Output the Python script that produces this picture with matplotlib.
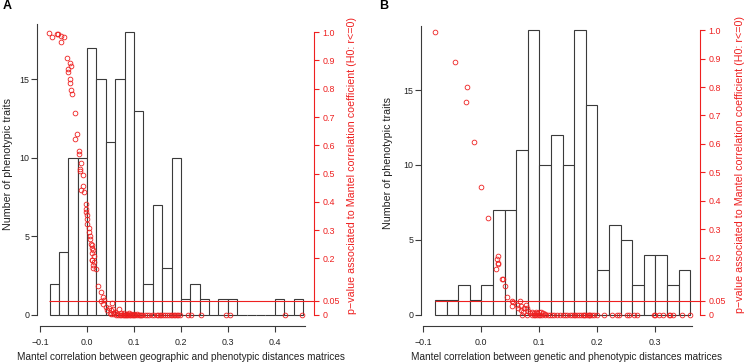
"""
Histograms of Mantel correlations with the p-values of each trait
on a second (red) axis.
"""

import numpy as np
import matplotlib.pyplot as plt

plt.rcParams['font.family'] = ['Liberation Sans', 'DejaVu Sans']

RED = '#ee2020'
EDGE = '#3a3a3a'

bin_start = -0.08
bin_width = 0.02

# panel A: geographic vs phenotypic distances
counts_a = [2, 4, 10, 10, 17, 15, 11, 15, 18, 13, 2, 7, 3, 10,
            1, 2, 1, 0, 1, 1, 0, 0, 0, 0, 1, 0, 1]

r_a = [-0.0815, -0.0745, -0.0645, -0.062, -0.056, -0.050, -0.055,
       -0.042, -0.037, -0.034, -0.040, -0.041, -0.037, -0.036, -0.035,
       -0.033, -0.0255, -0.022, -0.0255, -0.017, -0.0177, -0.014, -0.015,
       -0.016, -0.009, -0.009, -0.013, -0.007, -0.003, -0.003, -0.002,
       0.000, 0.000, -0.001, 0.003, 0.004, 0.006, 0.006, 0.0085, 0.011,
       0.011, 0.0135, 0.011, 0.014, 0.011, 0.010, 0.015, 0.0135, 0.0135,
       0.0185, 0.023, 0.029, 0.033, 0.035, 0.030, 0.052, 0.033, 0.041,
       0.046, 0.042, 0.050, 0.055, 0.067, 0.049, 0.057, 0.060, 0.0645,
       0.072, 0.078, 0.084, 0.089, 0.094, 0.099, 0.106, 0.115,
       0.050, 0.055, 0.062, 0.066, 0.070, 0.073, 0.076, 0.079, 0.0815,
       0.083, 0.086, 0.088, 0.0915, 0.092, 0.096, 0.098, 0.101, 0.103,
       0.107, 0.110, 0.113, 0.118, 0.124, 0.128, 0.133, 0.138, 0.143,
       0.148, 0.152, 0.155, 0.158, 0.162, 0.165, 0.170, 0.175, 0.178,
       0.182, 0.185, 0.188, 0.191, 0.194, 0.198, 0.2155, 0.221, 0.243,
       0.297, 0.304, 0.421, 0.459]
p_a = [0.998, 0.983, 0.993, 0.992, 0.988, 0.984, 0.966,
       0.909, 0.890, 0.879, 0.871, 0.861, 0.834, 0.822, 0.797,
       0.783, 0.713, 0.640, 0.624, 0.580, 0.569, 0.539, 0.516,
       0.508, 0.496, 0.455, 0.442, 0.434, 0.392, 0.375, 0.365,
       0.352, 0.338, 0.323, 0.308, 0.292, 0.279, 0.267, 0.252, 0.249,
       0.238, 0.229, 0.219, 0.209, 0.196, 0.196, 0.187, 0.176, 0.166,
       0.161, 0.104, 0.081, 0.064, 0.053, 0.050, 0.043, 0.039, 0.029,
       0.025, 0.018, 0.018, 0.022, 0.020, 0.008, 0.008, 0.012, 0.004,
       0.008, 0.006, 0.004, 0.006, 0.003, 0.005, 0.002, 0.001,
       0.003, 0.002, 0.001, 0.0, 0.0, 0.001, 0.0, 0.0, 0.0,
       0.0, 0.0, 0.0, 0.0, 0.0, 0.0, 0.0, 0.0, 0.0,
       0.0, 0.0, 0.0, 0.0, 0.0, 0.0, 0.0, 0.0, 0.0,
       0.0, 0.0, 0.0, 0.0, 0.0, 0.0, 0.0, 0.0, 0.0,
       0.0, 0.0, 0.0, 0.0, 0.0, 0.0, 0.0, 0.0, 0.0,
       0.0, 0.0, 0.0, 0.0]

# panel B: genetic vs phenotypic distances
counts_b = [1, 1, 2, 1, 2, 7, 7, 11, 19, 10, 12, 10, 19, 14,
            3, 6, 5, 2, 4, 4, 2, 3]

r_b = [-0.079, -0.045, -0.0247, -0.0264, -0.013, -0.0005, 0.011, 0.028,
       0.0265, 0.029, 0.028, 0.025, 0.0357, 0.037, 0.041, 0.044, 0.053,
       0.054, 0.066, 0.053, 0.061, 0.063, 0.069, 0.077, 0.074, 0.079,
       0.068, 0.0725, 0.080, 0.0695, 0.079,
       0.084, 0.088, 0.091, 0.094, 0.096, 0.100, 0.103, 0.106, 0.110,
       0.0874, 0.090, 0.093, 0.096, 0.099, 0.102, 0.105, 0.110, 0.115,
       0.118, 0.122, 0.125, 0.130, 0.135, 0.140, 0.145, 0.148, 0.153,
       0.156, 0.159, 0.162, 0.165, 0.168, 0.171, 0.175, 0.177, 0.179,
       0.182, 0.185, 0.186, 0.188, 0.191, 0.194, 0.199, 0.211, 0.225,
       0.234, 0.237, 0.251, 0.254, 0.263, 0.268, 0.297, 0.300, 0.306,
       0.314, 0.323, 0.326, 0.331, 0.346, 0.359]
p_b = [0.994, 0.888, 0.801, 0.748, 0.607, 0.448, 0.341, 0.208,
       0.195, 0.184, 0.178, 0.163, 0.128, 0.127, 0.102, 0.063, 0.049,
       0.044, 0.049, 0.033, 0.035, 0.025, 0.032, 0.035, 0.026, 0.025,
       0.018, 0.012, 0.013, 0.0, 0.0,
       0.008, 0.010, 0.008, 0.012, 0.006, 0.010, 0.012, 0.006, 0.004,
       0.0, 0.0, 0.0, 0.0, 0.0, 0.0, 0.0, 0.0, 0.0,
       0.0, 0.0, 0.0, 0.0, 0.0, 0.0, 0.0, 0.0, 0.0,
       0.0, 0.0, 0.0, 0.0, 0.0, 0.0, 0.0, 0.0, 0.0,
       0.0, 0.0, 0.0, 0.0, 0.0, 0.0, 0.0, 0.0, 0.0,
       0.0, 0.0, 0.0, 0.0, 0.0, 0.0, 0.0, 0.0, 0.0,
       0.0, 0.0, 0.0, 0.0, 0.0, 0.0]

p_ticks = [0, 0.05, 0.2, 0.3, 0.4, 0.5, 0.6, 0.7, 0.8, 0.9, 1.0]
p_labels = ['0', '0.05', '0.2', '0.3', '0.4', '0.5', '0.6', '0.7', '0.8',
            '0.9', '1.0']
alpha_level = 0.05


def fmt_minus(v):
    return '{:.1f}'.format(v).replace('-', '\u2212')


def plot_panel(ax, counts, r, p, xlim, xticks, xlabel, ybound,
               ylabel_x, plabel_x):
    counts = np.asarray(counts)
    left = np.round(bin_start + bin_width * np.arange(len(counts)), 3)
    ax.bar(left, counts, width=bin_width, align='edge', color='white',
           edgecolor=EDGE, linewidth=0.8)

    ymax = counts.max()
    ax.set_xlim(*xlim)
    ax.set_ylim(-0.04 * ymax, 1.04 * ymax)
    ax.set_xticks(xticks)
    ax.set_xticklabels([fmt_minus(t) for t in xticks])
    ax.set_yticks([0, 5, 10, 15])

    for s in ('top', 'right'):
        ax.spines[s].set_visible(False)
    ax.spines['left'].set_bounds(0, ybound)
    ax.spines['bottom'].set_bounds(xticks[0], max(r) + 0.005)
    for s in ('left', 'bottom'):
        ax.spines[s].set_color(EDGE)
        ax.spines[s].set_linewidth(0.8)
    ax.tick_params(direction='out', length=4.3, width=0.8, colors=EDGE,
                   labelcolor='#222222', labelsize=6.4)
    ax.tick_params(axis='x', pad=4.2)
    ax.tick_params(axis='y', pad=1.4)

    ax.set_xlabel(xlabel, fontsize=7.2, color='#222222')
    ax.xaxis.set_label_coords(0.52, -0.084)
    ax.set_ylabel('Number of phenotypic traits', fontsize=7.7,
                  color='#222222')
    ax.yaxis.set_label_coords(ylabel_x, 0.53)

    # p-values on the second axis
    ax2 = ax.twinx()
    ax2.plot(r, p, linestyle='none', marker='o', markersize=3.4,
             markerfacecolor='none', markeredgecolor=RED,
             markeredgewidth=0.6)
    ax2.hlines(alpha_level, min(r), xlim[1], color=RED, linewidth=0.8)
    ax2.set_ylim(-0.04, 1.04)
    ax2.set_yticks(p_ticks)
    ax2.set_yticklabels(p_labels)
    for s in ('top', 'left', 'bottom'):
        ax2.spines[s].set_visible(False)
    ax2.spines['right'].set_bounds(0, 1)
    ax2.spines['right'].set_color(RED)
    ax2.spines['right'].set_linewidth(0.8)
    ax2.tick_params(direction='out', length=3.8, width=0.8, colors=RED,
                    labelsize=6.4, pad=2.5)
    ax2.set_ylabel('p\u2212value associated to Mantel correlation '
                   'coefficient (H0: r<=0)', fontsize=7.7, color=RED,
                   rotation=90)
    ax2.yaxis.set_label_coords(plabel_x, 0.525)
    return ax2


fig = plt.figure(figsize=(7.44, 3.64), dpi=100)
ax_a = fig.add_axes([0.050, 0.1036, 0.3716, 0.839])
ax_b = fig.add_axes([0.5663, 0.1033, 0.3746, 0.8456])

plot_panel(ax_a, counts_a, r_a, p_a, (-0.1064, 0.483),
           [-0.1, 0.0, 0.1, 0.2, 0.3, 0.4],
           'Mantel correlation between geographic and phenotypic '
           'distances matrices', 18.5, -0.089, 1.119)
plot_panel(ax_b, counts_b, r_b, p_b, (-0.1034, 0.377),
           [-0.1, 0.0, 0.1, 0.2, 0.3],
           'Mantel correlation between genetic and phenotypic '
           'distances matrices', 19.3, -0.102, 1.126)

fig.text(0.003, 0.967, 'A', fontsize=9, fontweight='bold', va='bottom')
fig.text(0.510, 0.967, 'B', fontsize=9, fontweight='bold', va='bottom')

fig.savefig('out.png', dpi=100)
